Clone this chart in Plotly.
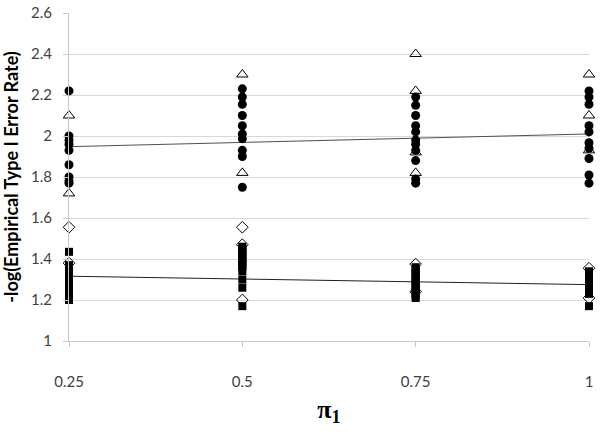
import plotly.graph_objects as go

# x positions (pi_1)
pi_levels = [0.25, 0.5, 0.75, 1]

# filled circles (upper group)
circ_x = [0.25]*9 + [0.5]*10 + [0.75]*11 + [1]*10
circ_y = [2.22, 2.00, 1.98, 1.96, 1.93, 1.86, 1.80, 1.78, 1.77,
          2.23, 2.19, 2.155, 2.10, 2.05, 2.01, 1.986, 1.93, 1.90, 1.75,
          2.19, 2.15, 2.10, 2.05, 2.02, 1.98, 1.96, 1.93, 1.88, 1.79, 1.77,
          2.22, 2.19, 2.155, 2.05, 2.02, 1.967, 1.94, 1.89, 1.81, 1.77]

# open triangles (upper group)
tri_x = [0.25]*2 + [0.5]*2 + [0.75]*4 + [1]*3
tri_y = [2.10, 1.72,
         2.30, 1.82,
         2.40, 2.22, 1.92, 1.82,
         2.30, 2.10, 1.93]

# open diamonds (lower group)
dia_x = [0.25]*2 + [0.5]*3 + [0.75]*2 + [1]*2
dia_y = [1.555, 1.38,
         1.555, 1.47, 1.20,
         1.375, 1.24,
         1.355, 1.21]

# filled squares (lower group)
sq_x = [0.25]*19 + [0.5]*15 + [0.75]*16 + [1]*13
sq_y = [1.435, 1.37, 1.36, 1.35, 1.34, 1.33, 1.32, 1.31, 1.30, 1.29, 1.28, 1.27,
        1.26, 1.25, 1.24, 1.23, 1.22, 1.21, 1.20,
        1.46, 1.45, 1.44, 1.43, 1.42, 1.41, 1.40, 1.39, 1.38, 1.37, 1.36, 1.34,
        1.30, 1.26, 1.17,
        1.36, 1.35, 1.34, 1.33, 1.32, 1.31, 1.30, 1.29, 1.28, 1.27, 1.26, 1.25,
        1.24, 1.23, 1.22, 1.21,
        1.34, 1.33, 1.32, 1.31, 1.30, 1.29, 1.28, 1.27, 1.26, 1.25, 1.24, 1.23, 1.17]

# linear trend lines
trend_x = [0.25, 1]
trend_upper = [1.948, 2.01]
trend_lower = [1.316, 1.275]

fig = go.Figure()
fig.add_trace(go.Scatter(x=trend_x, y=trend_upper, mode="lines",
                         line=dict(color="#505050", width=1)))
fig.add_trace(go.Scatter(x=trend_x, y=trend_lower, mode="lines",
                         line=dict(color="#202020", width=1)))
fig.add_trace(go.Scatter(x=sq_x, y=sq_y, mode="markers",
                         marker=dict(symbol="square", size=8, color="black")))
fig.add_trace(go.Scatter(x=dia_x, y=dia_y, mode="markers",
                         marker=dict(symbol="diamond-open", size=9, color="black",
                                     line=dict(width=1))))
fig.add_trace(go.Scatter(x=circ_x, y=circ_y, mode="markers",
                         marker=dict(symbol="circle", size=9, color="black")))
fig.add_trace(go.Scatter(x=tri_x, y=tri_y, mode="markers",
                         marker=dict(symbol="triangle-up-open", size=10, color="black",
                                     line=dict(width=1))))
fig.update_traces(cliponaxis=False)

fig.update_layout(
    width=600, height=437,
    margin=dict(l=69, r=11, t=13, b=96),
    plot_bgcolor="white", paper_bgcolor="white",
    showlegend=False,
    font=dict(family="Lato, Liberation Sans, sans-serif", color="#404040", size=15),
)
fig.update_xaxes(
    range=[0.25, 1], tickvals=pi_levels, ticktext=["0.25", "0.5", "0.75", "1"],
    showgrid=False, zeroline=False, showline=True, linecolor="#c8c8c8", linewidth=1,
    ticks="outside", ticklen=5, tickcolor="#c8c8c8", automargin=False,
    ticklabelstandoff=22, ticklabeloverflow="allow",
    title=dict(text="<b>π<sub>1</sub></b>",
               font=dict(family="Liberation Serif, serif", size=26, color="black"),
               standoff=10),
)
fig.update_yaxes(
    range=[1, 2.6], dtick=0.2, tickformat="~g",
    showgrid=True, gridcolor="#d9d9d9", zeroline=False,
    showline=True, linecolor="#c8c8c8", linewidth=1,
    ticks="outside", ticklen=5, tickcolor="#c8c8c8", automargin=False,
    ticklabelstandoff=8, ticklabeloverflow="allow",
    title=dict(text="<b>-log(Empirical Type I Error Rate)</b>",
               font=dict(size=18, color="black"), standoff=14),
)

# drop the default body margin so the figure sits at the page corner
fig.write_html("out.html", config={"displayModeBar": False},
               post_script="document.body.style.margin = '0px';")
